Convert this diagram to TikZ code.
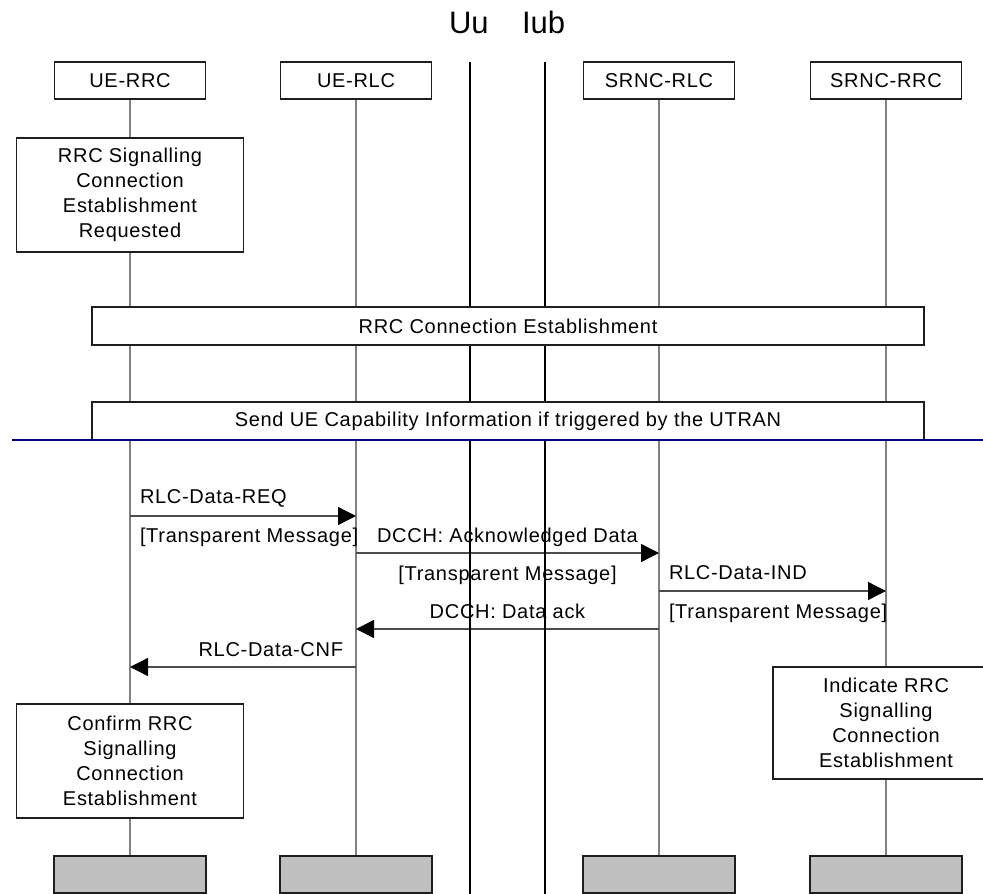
\documentclass[tikz,border=0pt]{standalone}
\usepackage{fontspec}
\setmainfont{Liberation Sans}[LetterSpace=3.5]
\newfontfamily\titlefont{Liberation Sans}
\usetikzlibrary{arrows.meta}
\definecolor{navyline}{RGB}{0,0,128}
\definecolor{boxgray}{RGB}{192,192,192}
\definecolor{lifegray}{RGB}{128,128,128}
\definecolor{boxline}{RGB}{30,30,30}
\pgfdeclarelayer{lifel}
\pgfdeclarelayer{arrowl}
\pgfdeclarelayer{thickl}
\pgfdeclarelayer{frontl}
\pgfsetlayers{lifel,arrowl,thickl,main,frontl}
\begin{document}
\begin{tikzpicture}[x=1pt,y=-1pt,
  every node/.style={font=\fontsize{20}{25}\selectfont, inner sep=0pt, outer sep=0pt},
  hdr/.style={draw=boxline, line width=1.3pt, fill=white, minimum width=151pt, minimum height=37pt},
  endbox/.style={draw=boxline, line width=1.3pt, fill=boxgray, minimum width=152pt, minimum height=37pt},
  act/.style={draw=boxline, line width=1.3pt, fill=white, align=center, minimum width=227pt, minimum height=114pt},
  wide/.style={draw=boxline, line width=1.3pt, fill=white, minimum width=832pt, minimum height=38pt},
  life/.style={draw=lifegray, line width=1.6pt},
  msg/.style={draw=black!70, line width=1.3pt, -{Triangle[length=18pt,width=18pt,color=black]}},
  iface/.style={draw=black, line width=2.5pt},
  lbl/.style={anchor=base west},
  ttl/.style={anchor=base west, font=\titlefont\fontsize{31}{36}\selectfont},
]
\useasboundingbox (0,0) rectangle (983,894);
\clip (0,0) rectangle (983,894);

% title
\node[ttl] (uu) at (449,33) {Uu};
\node[ttl] (iub) at (522,33) {Iub};

% header boxes
\node[hdr] (h1) at (130,80.5) {UE-RRC};
\node[hdr] (h2) at (356,80.5) {UE-RLC};
\node[hdr] (h3) at (659,80.5) {SRNC-RLC};
\node[hdr] (h4) at (886,80.5) {SRNC-RRC};

% end boxes
\node[endbox] (f1) at (130,874.5) {};
\node[endbox] (f2) at (356,874.5) {};
\node[endbox] (f3) at (659,874.5) {};
\node[endbox] (f4) at (886,874.5) {};

% action boxes
\node[act] (b1) at (130,195) {RRC Signalling\\Connection\\Establishment\\Requested};
\node[act] (b2) at (130,761) {Confirm RRC\\Signalling\\Connection\\Establishment};
\node[act, minimum width=226pt, minimum height=112pt] (b3) at (886,723) {Indicate RRC\\Signalling\\Connection\\Establishment};

% wide boxes
\node[wide] (w1) at (508,326) {RRC Connection Establishment};
\node[wide] (w2) at (508,421) {Send UE Capability Information if triggered by the UTRAN};

% lifelines
\begin{pgfonlayer}{lifel}
\draw[life] (h1.south) -- (b1.north);
\draw[life] (b1.south) -- (b2.north);
\draw[life] (b2.south) -- (f1.north);
\draw[life] (h2.south) -- (f2.north);
\draw[life] (h3.south) -- (f3.north);
\draw[life] (h4.south) -- (b3.north);
\draw[life] (b3.south) -- (f4.north);
\end{pgfonlayer}

% messages
\begin{pgfonlayer}{arrowl}
\coordinate (m1a) at (130,516); \coordinate (m1b) at (356,516);
\coordinate (m2a) at (356,553); \coordinate (m2b) at (659,553);
\coordinate (m3a) at (659,591); \coordinate (m3b) at (886,591);
\coordinate (m4a) at (659,629); \coordinate (m4b) at (356,629);
\coordinate (m5a) at (356,667); \coordinate (m5b) at (130,667);
\draw[msg] (m1a) -- (m1b);
\draw[msg] (m2a) -- (m2b);
\draw[msg] (m3a) -- (m3b);
\draw[msg] (m4a) -- (m4b);
\draw[msg] (m5a) -- (m5b);
\node[lbl] (l1a) at (140,503) {RLC-Data-REQ};
\node[lbl] (l1b) at (140,542) {[Transparent Message]};
\node[anchor=base] (l2a) at (507.5,542) {DCCH: Acknowledged Data};
\node[anchor=base] (l2b) at (507.5,580) {[Transparent Message]};
\node[lbl] (l3a) at (669,579) {RLC-Data-IND};
\node[lbl] (l3b) at (669,618) {[Transparent Message]};
\node[anchor=base] (l4a) at (507.5,618) {DCCH: Data ack};
\node[anchor=base east] (l5a) at (343,656) {RLC-Data-CNF};
\end{pgfonlayer}

% interface lines
\begin{pgfonlayer}{thickl}
\coordinate (uT) at (470,62); \coordinate (uB) at (470,894);
\coordinate (iT) at (545,62); \coordinate (iB) at (545,894);
\draw[iface] (uT) -- (uB);
\draw[iface] (iT) -- (iB);
\end{pgfonlayer}

% separator
\begin{pgfonlayer}{frontl}
\coordinate (s1) at (12,440); \coordinate (s2) at (983,440);
\draw[navyline, line width=2pt] (s1) -- (s2);
\end{pgfonlayer}
\end{tikzpicture}
\end{document}
